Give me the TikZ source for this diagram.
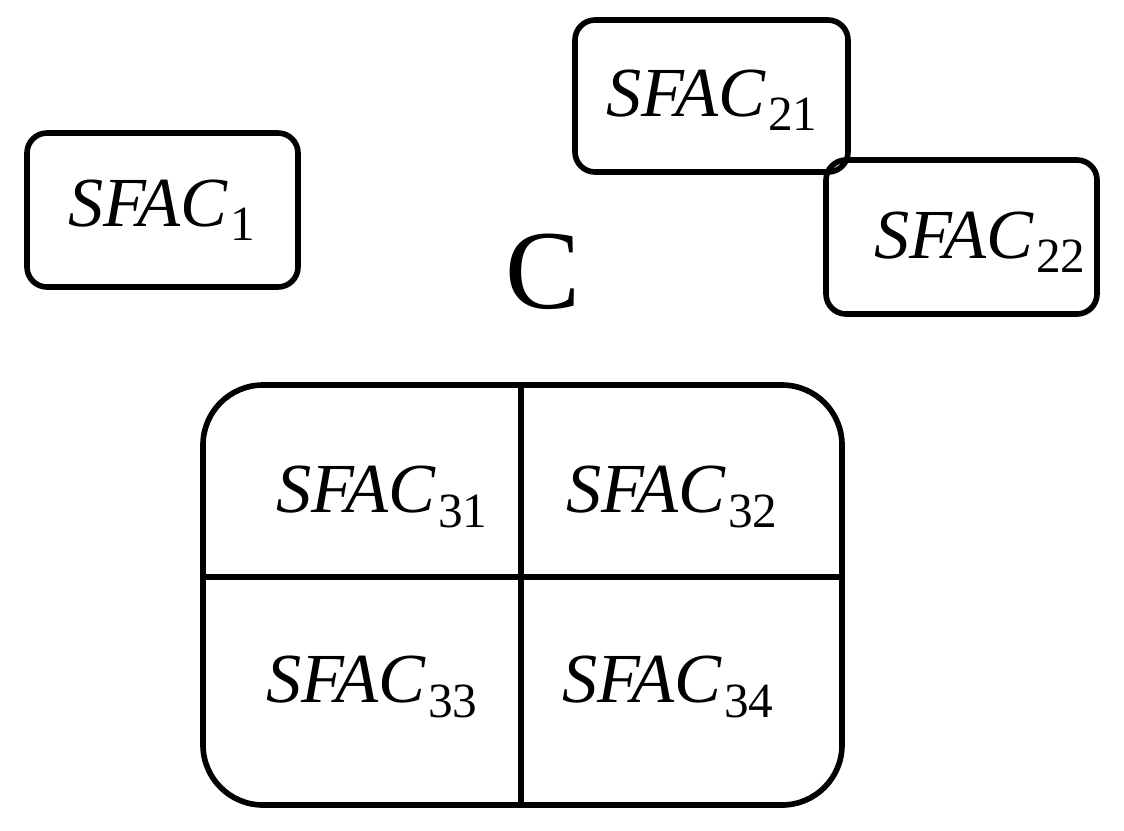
\documentclass[tikz,border=0pt]{standalone}
\usepackage{fontspec}
\setmainfont{Liberation Serif}
\newcommand{\sfacsub}[1]{SFAC\kern0.04em\raisebox{-0.45ex}{\upshape\fontsize{14}{16}\selectfont #1}}
\begin{document}
\begin{tikzpicture}[x=0.01cm,y=-0.01cm,
  box/.style={draw,line width=1.6pt,rounded corners=0.2cm},
  lab/.style={font=\fontsize{20}{24}\selectfont\itshape}]
\useasboundingbox (0,0) rectangle (1124,830);
\draw[box] (27,133) rectangle (298,287);
\draw[box] (575,20) rectangle (848,172);
\draw[box] (826,160) rectangle (1097,314);
\draw[box,rounded corners=0.6cm] (203,385) rectangle (842,805);
\draw[line width=1.6pt] (521,385) -- (521,805);
\draw[line width=1.6pt] (203,577) -- (842,577);
\node[lab] (s1) at (162,210) {\sfacsub{1}};
\node[lab] (s21) at (712,100) {\sfacsub{21}};
\node[lab] (s22) at (980,242) {\sfacsub{22}};
\node[lab] (s31) at (382,497) {\sfacsub{31}};
\node[lab] (s32) at (672,497) {\sfacsub{32}};
\node[lab] (s33) at (372,687) {\sfacsub{33}};
\node[lab] (s34) at (668,687) {\sfacsub{34}};
\node[font=\fontsize{32}{36}\selectfont] (c) at (543,272) {C};
\end{tikzpicture}
\end{document}
